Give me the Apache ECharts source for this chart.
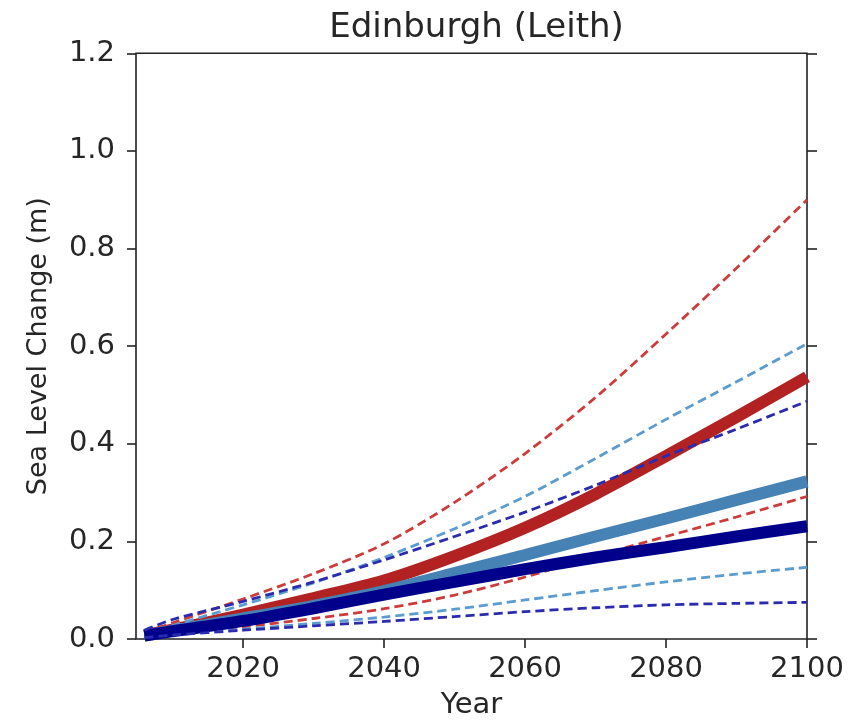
<!DOCTYPE html>
<html>
<head>
<meta charset="utf-8">
<script src="https://cdn.jsdelivr.net/npm/echarts@6/dist/echarts.min.js"></script>
<style>
html,body{margin:0;padding:0;background:#fff;}
#c{width:859px;height:725px;}
</style>
</head>
<body>
<div id="c"></div>
<script>
// ---- data ----
const years = [2006, 2010, 2020, 2030, 2040, 2050, 2060, 2070, 2080, 2090, 2100];

const redMid   = [0.008, 0.019, 0.050, 0.084, 0.120, 0.170, 0.228, 0.297, 0.375, 0.455, 0.537];
const redHigh  = [0.014, 0.033, 0.082, 0.134, 0.195, 0.280, 0.380, 0.495, 0.625, 0.760, 0.900];
const redLow   = [0.004, 0.011, 0.025, 0.042, 0.062, 0.090, 0.127, 0.170, 0.210, 0.250, 0.292];

const blueMid  = [0.007, 0.017, 0.042, 0.068, 0.098, 0.135, 0.172, 0.210, 0.247, 0.285, 0.323];
const blueHigh = [0.012, 0.028, 0.070, 0.115, 0.167, 0.226, 0.292, 0.370, 0.450, 0.527, 0.605];
const blueLow  = [0.003, 0.009, 0.020, 0.032, 0.045, 0.061, 0.080, 0.099, 0.117, 0.133, 0.147];

const navyMid  = [0.007, 0.016, 0.037, 0.063, 0.091, 0.117, 0.143, 0.167, 0.188, 0.210, 0.231];
const navyHigh = [0.018, 0.040, 0.077, 0.117, 0.162, 0.210, 0.260, 0.315, 0.375, 0.430, 0.487];
const navyLow  = [0.003, 0.008, 0.018, 0.027, 0.036, 0.046, 0.056, 0.064, 0.070, 0.073, 0.075];

const xTicks = [2020, 2040, 2060, 2080, 2100];

const title = 'Edinburgh (Leith)';
const xName = 'Year';
const yName = 'Sea Level Change (m)';

// ---- chart ----
const pairs = v => years.map((y, i) => [y, v[i]]);
const FONT = 'DejaVu Sans';
const TXT = '#262626';
const AX = '#222';

function thick(name, color, vals) {
  return {
    name, type: 'line', data: pairs(vals), showSymbol: false, smooth: 0.3,
    lineStyle: {color, width: 12, cap: 'butt'}, silent: true
  };
}
function dashed(name, color, vals) {
  return {
    name, type: 'line', data: pairs(vals), showSymbol: false, smooth: 0.3,
    lineStyle: {color, width: 2.8, type: [9, 5]}, silent: true
  };
}

const chart = echarts.init(document.getElementById('c'), null, {renderer: 'canvas'});
chart.setOption({
  animation: false,
  backgroundColor: '#fff',
  title: {
    text: title, left: 471.5, textAlign: 'center', top: 6,
    textStyle: {fontFamily: FONT, fontSize: 34, fontWeight: 'normal', color: TXT}
  },
  grid: {
    left: 136, right: 52, top: 53.3, bottom: 81.4,
    show: true, borderColor: AX, borderWidth: 1.6, backgroundColor: 'transparent'
  },
  xAxis: [{
    type: 'value', min: 2004.8, max: 2100,
    axisLine: {show: false},
    splitLine: {show: false},
    axisTick: {show: true, customValues: xTicks, length: 9, lineStyle: {color: AX, width: 1.6}},
    axisLabel: {customValues: xTicks, margin: 16, fontFamily: FONT, fontSize: 29, color: TXT,
                formatter: v => String(v)},
    name: xName, nameLocation: 'middle', nameGap: 52,
    nameTextStyle: {fontFamily: FONT, fontSize: 29, color: TXT}
  }],
  yAxis: [{
    type: 'value', min: 0, max: 1.2, interval: 0.2, position: 'left',
    axisLine: {show: false},
    splitLine: {show: false},
    axisTick: {show: true, length: 9, lineStyle: {color: AX, width: 1.6}},
    axisLabel: {margin: 21, fontFamily: FONT, fontSize: 29, color: TXT,
                formatter: v => v.toFixed(1)},
    name: yName, nameLocation: 'middle', nameGap: 84, nameRotate: 90,
    nameTextStyle: {fontFamily: FONT, fontSize: 27, color: TXT}
  }, {
    type: 'value', min: 0, max: 1.2, interval: 0.2, position: 'right',
    axisLine: {show: false},
    splitLine: {show: false},
    axisTick: {show: true, length: 10, lineStyle: {color: AX, width: 1.6}},
    axisLabel: {show: false}
  }],
  series: [
    thick('RCP8.5', '#b22222', redMid),
    dashed('RCP8.5 high', '#cd3b3b', redHigh),
    dashed('RCP8.5 low', '#cd3b3b', redLow),
    thick('RCP4.5', '#4682b4', blueMid),
    dashed('RCP4.5 high', '#5a9bd0', blueHigh),
    dashed('RCP4.5 low', '#5a9bd0', blueLow),
    thick('RCP2.6', '#00008b', navyMid),
    dashed('RCP2.6 high', '#2b2bb0', navyHigh),
    dashed('RCP2.6 low', '#2b2bb0', navyLow)
  ]
});
</script>
</body>
</html>
